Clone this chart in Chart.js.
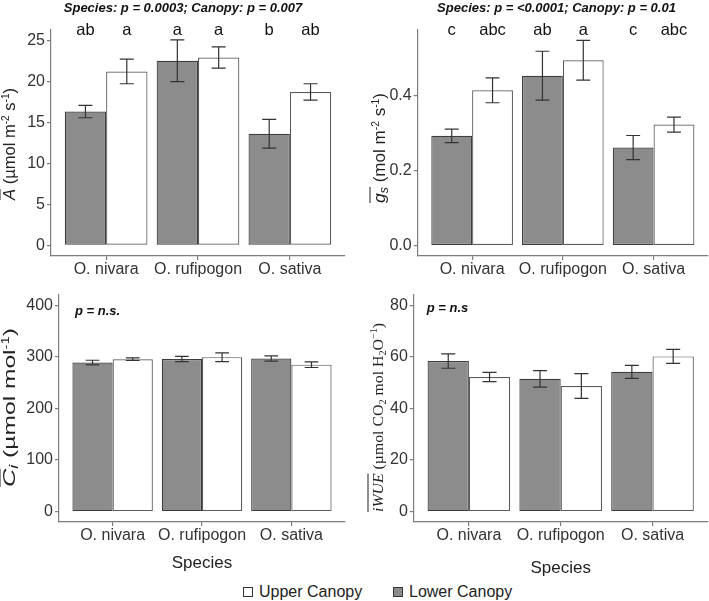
<!DOCTYPE html>
<html>
<head>
<meta charset="utf-8">
<script src="https://cdn.jsdelivr.net/npm/chart.js@4.4.1/dist/chart.umd.min.js"></script>
<style>
    body { margin: 0; background: #fff; width: 709px; height: 601px; position: relative; overflow: hidden; font-family: 'Liberation Sans', Arial, sans-serif; }
    .panel { position: absolute; }
    #legend { position: absolute; top: 583px; left: 243px; height: 18px; font-size: 16px; color: #222; }
    .item { position: absolute; top: 0; white-space: nowrap; line-height: 18px; }
    .box { position: absolute; top: 4px; width: 8px; height: 8px; border: 1.5px solid #333; }
</style>
</head>
<body>
<canvas class="panel" id="chartA" width="350" height="280" style="left:0;top:0"></canvas>
<canvas class="panel" id="chartG" width="359" height="280" style="left:350px;top:0"></canvas>
<canvas class="panel" id="chartC" width="350" height="295" style="left:0;top:280px"></canvas>
<canvas class="panel" id="chartW" width="359" height="300" style="left:350px;top:280px"></canvas>
<div id="legend"></div>

<script>
const species = ['O. nivara', 'O. rufipogon', 'O. sativa'];
const canopyNames = ['Lower Canopy', 'Upper Canopy'];

// net assimilation
const aLower = [16.3, 22.5, 13.6];
const aLowerErr = [0.75, 2.55, 1.75];
const aUpper = [21.2, 22.9, 18.7];
const aUpperErr = [1.5, 1.3, 1.0];
const aLowerLetters = ['ab', 'a', 'b'];
const aUpperLetters = ['a', 'a', 'ab'];
const aTicks = [0, 5, 10, 15, 20, 25];
const aTickLabels = ['0', '5', '10', '15', '20', '25'];

// stomatal conductance
const gLower = [0.292, 0.452, 0.261];
const gLowerErr = [0.018, 0.065, 0.032];
const gUpper = [0.413, 0.493, 0.322];
const gUpperErr = [0.033, 0.053, 0.02];
const gLowerLetters = ['c', 'ab', 'c'];
const gUpperLetters = ['abc', 'a', 'abc'];
const gTicks = [0, 0.2, 0.4];
const gTickLabels = ['0.0', '0.2', '0.4'];

// intercellular CO2
const cLower = [289, 296, 297];
const cLowerErr = [4.5, 5, 5];
const cUpper = [295.5, 299.5, 285];
const cUpperErr = [2.5, 8.5, 5.5];
const cTicks = [0, 100, 200, 300, 400];
const cTickLabels = ['0', '100', '200', '300', '400'];

// intrinsic water use efficiency
const wLower = [58.4, 51.5, 54.2];
const wLowerErr = [2.8, 3.2, 2.5];
const wUpper = [52.2, 48.7, 60.2];
const wUpperErr = [1.8, 4.8, 2.7];
const wTicks = [0, 20, 40, 60, 80];
const wTickLabels = ['0', '20', '40', '60', '80'];

const lowerFill = '#8c8c8c';
const lowerEdge = '#3d3d3d';
const upperFill = '#ffffff';
const upperEdge = '#5a5a5a';
const axisColor = '#7d7d7d';
const sans = "'Liberation Sans', Arial, sans-serif";
const serif = "'Liberation Serif', 'Times New Roman', serif";

// rotated y title made of text pieces (italics, sub/superscripts, overline)
function drawRich(ctx, segs, bx, cy, targetLen) {
    ctx.save();
    let w = 0;
    const parts = segs.map(s => {
        ctx.font = s.font;
        const sw = ctx.measureText(s.t).width;
        const p = Object.assign({}, s, {x: w, w: sw});
        w += sw;
        return p;
    });
    const k = targetLen ? targetLen / w : 1;
    ctx.translate(bx, cy);
    ctx.rotate(-Math.PI / 2);
    ctx.scale(k, 1);
    ctx.translate(-w / 2, 0);
    ctx.fillStyle = '#222';
    ctx.textAlign = 'left';
    ctx.textBaseline = 'alphabetic';
    parts.forEach(p => {
        ctx.font = p.font;
        ctx.fillText(p.t, p.x, p.dy || 0);
    });
    const over = parts.filter(p => p.over);
    if (over.length) {
        ctx.strokeStyle = '#222';
        ctx.lineWidth = 1;
        ctx.beginPath();
        ctx.moveTo(over[0].x, -15);
        ctx.lineTo(over[over.length - 1].x + over[over.length - 1].w, -15);
        ctx.stroke();
    }
    ctx.restore();
}

const errorBars = {
    id: 'errorBars',
    afterDatasetsDraw(chart) {
        const {ctx} = chart;
        const y = chart.scales.y;
        chart.data.datasets.forEach((ds, di) => {
            chart.getDatasetMeta(di).data.forEach((bar, i) => {
                const v = ds.data[i].y;
                const e = ds.err[i];
                const top = y.getPixelForValue(v + e);
                const bot = y.getPixelForValue(v - e);
                const half = bar.width * 0.17;
                ctx.save();
                ctx.strokeStyle = '#333';
                ctx.lineWidth = 1.2;
                ctx.beginPath();
                ctx.moveTo(bar.x, top); ctx.lineTo(bar.x, bot);
                ctx.moveTo(bar.x - half, top); ctx.lineTo(bar.x + half, top);
                ctx.moveTo(bar.x - half, bot); ctx.lineTo(bar.x + half, bot);
                ctx.stroke();
                ctx.restore();
            });
        });
    }
};

const panelText = {
    id: 'panelText',
    afterDraw(chart, args, opts) {
        const {ctx, chartArea} = chart;
        ctx.save();
        if (opts.title) {
            ctx.font = 'bold italic 13px ' + sans;
            ctx.fillStyle = '#111';
            ctx.textAlign = 'center';
            ctx.textBaseline = 'middle';
            ctx.fillText(opts.title, opts.titleX, 8);
        }
        if (opts.note) {
            ctx.font = 'bold italic 13px ' + sans;
            ctx.fillStyle = '#111';
            ctx.textAlign = 'left';
            ctx.textBaseline = 'middle';
            ctx.fillText(opts.note, chartArea.left + opts.noteDx, opts.noteY);
        }
        chart.data.datasets.forEach((ds, di) => {
            if (!ds.letters) return;
            chart.getDatasetMeta(di).data.forEach((bar, i) => {
                ctx.font = '16.5px ' + sans;
                ctx.fillStyle = '#111';
                ctx.textAlign = 'center';
                ctx.textBaseline = 'alphabetic';
                ctx.fillText(ds.letters[i], bar.x, chartArea.top + 5);
            });
        });
        ctx.restore();
        drawRich(ctx, opts.ySegs, opts.yTitleX, opts.yTitleY, opts.yTitleLen);
    }
};

function makePanel(id, cfg) {
    const toPoints = arr => arr.map((v, i) => ({x: i + 1, y: v}));
    return new Chart(document.getElementById(id), {
        type: 'bar',
        data: {
            datasets: [
                {label: canopyNames[0], data: toPoints(cfg.lower), err: cfg.lowerErr, letters: cfg.lowerLetters,
                    backgroundColor: lowerFill, borderColor: lowerEdge, borderWidth: 1.2, borderSkipped: false},
                {label: canopyNames[1], data: toPoints(cfg.upper), err: cfg.upperErr, letters: cfg.upperLetters,
                    backgroundColor: upperFill, borderColor: upperEdge, borderWidth: 1.2, borderSkipped: false}
            ]
        },
        options: {
            responsive: false,
            animation: false,
            categoryPercentage: 0.9,
            barPercentage: 1.0,
            layout: {padding: {top: cfg.padTop, right: cfg.padRight, bottom: 0, left: 0}},
            plugins: {
                legend: {display: false},
                tooltip: {enabled: false},
                panelText: cfg.text
            },
            scales: {
                x: {
                    type: 'linear', min: 0.4, max: 3.6, offset: false,
                    afterBuildTicks: s => { s.ticks = species.map((_, i) => ({value: i + 1})); },
                    afterFit: s => { s.height = cfg.xH; s.paddingLeft = 0; s.paddingRight = 0; },
                    ticks: {callback: (v, i) => species[i], font: {size: 16, family: sans}, color: '#333', padding: 0, autoSkip: false, maxRotation: 0},
                    grid: {drawOnChartArea: false, tickLength: 4, color: axisColor, lineWidth: 1.2, offset: false},
                    border: {color: axisColor, width: 1.2},
                    title: cfg.xTitle
                        ? {display: true, text: 'Species', font: {size: 17, family: sans}, color: '#222', padding: {top: 0, bottom: 1.5}}
                        : {display: false}
                },
                y: {
                    min: cfg.yMin, max: cfg.yMax,
                    afterBuildTicks: s => { s.ticks = cfg.yTicks.map(v => ({value: v})); },
                    afterFit: s => { s.width = cfg.yW; s.paddingTop = 0; s.paddingBottom = 0; },
                    ticks: {callback: (v, i) => cfg.yTickLabels[i], font: {size: 16, family: sans}, color: '#333', padding: 2},
                    grid: {drawOnChartArea: false, tickLength: 4, color: axisColor, lineWidth: 1.2},
                    border: {color: axisColor, width: 1.2}
                }
            }
        },
        plugins: [errorBars, panelText]
    });
}

const big = '16.5px ' + sans;
const sup = '10px ' + sans;

makePanel('chartA', {
    lower: aLower, lowerErr: aLowerErr, upper: aUpper, upperErr: aUpperErr,
    lowerLetters: aLowerLetters, upperLetters: aUpperLetters,
    yMin: -1.3, yMax: 26.25, yTicks: aTicks, yTickLabels: aTickLabels,
    yW: 51, xH: 24, padTop: 30, padRight: 5, xTitle: false,
    text: {
        title: 'Species: p = 0.0003; Canopy: p = 0.007', titleX: 183,
        ySegs: [
            {t: 'A', font: 'italic ' + big, over: true},
            {t: ' (µmol m', font: big}, {t: '-2', font: sup, dy: -6},
            {t: ' s', font: big}, {t: '-1', font: sup, dy: -6}, {t: ')', font: big}
        ],
        yTitleX: 15, yTitleY: 144, yTitleLen: 112
    }
});

makePanel('chartG', {
    lower: gLower, lowerErr: gLowerErr, upper: gUpper, upperErr: gUpperErr,
    lowerLetters: gLowerLetters, upperLetters: gUpperLetters,
    yMin: -0.0275, yMax: 0.5735, yTicks: gTicks, yTickLabels: gTickLabels,
    yW: 67.7, xH: 24, padTop: 30, padRight: 1, xTitle: false,
    text: {
        title: 'Species: p = <0.0001; Canopy: p = 0.01', titleX: 206.5,
        ySegs: [
            {t: 'g', font: 'italic 17px ' + sans, over: true},
            {t: 's', font: 'italic 12px ' + sans, dy: 3, over: true},
            {t: ' (mol m', font: big}, {t: '-2', font: sup, dy: -6},
            {t: ' s', font: big}, {t: '-1', font: sup, dy: -6}, {t: ')', font: big}
        ],
        yTitleX: 35, yTitleY: 148, yTitleLen: 110
    }
});

makePanel('chartC', {
    lower: cLower, lowerErr: cLowerErr, upper: cUpper, upperErr: cUpperErr,
    yMin: -20, yMax: 420, yTicks: cTicks, yTickLabels: cTickLabels,
    yW: 59, xH: 53, padTop: 15, padRight: 5, xTitle: true,
    text: {
        note: 'p = n.s.', noteDx: 16, noteY: 31.5,
        ySegs: [
            {t: 'C', font: 'italic 17px ' + sans, over: true},
            {t: 'i', font: 'italic 12px ' + sans, dy: 3},
            {t: ' (µmol mol', font: big}, {t: '-1', font: sup, dy: -6}, {t: ')', font: big}
        ],
        yTitleX: 15, yTitleY: 127.5, yTitleLen: 159
    }
});

makePanel('chartW', {
    lower: wLower, lowerErr: wLowerErr, upper: wUpper, upperErr: wUpperErr,
    yMin: -4, yMax: 84, yTicks: wTicks, yTickLabels: wTickLabels,
    yW: 63.8, xH: 58, padTop: 15, padRight: 1.4, xTitle: true,
    text: {
        note: 'p = n.s', noteDx: 13, noteY: 28,
        ySegs: [
            {t: 'iWUE', font: 'italic 15.5px ' + serif, over: true},
            {t: ' (µmol CO', font: '15.5px ' + serif}, {t: '2', font: '10px ' + serif, dy: 3},
            {t: ' mol H', font: '15.5px ' + serif}, {t: '2', font: '10px ' + serif, dy: 3},
            {t: 'O', font: '15.5px ' + serif}, {t: '\u22121', font: '10px ' + serif, dy: -6},
            {t: ')', font: '15.5px ' + serif}
        ],
        yTitleX: 33, yTitleY: 137.5, yTitleLen: 189
    }
});

// shared legend: upper first, then lower, as in the figure
const legendEl = document.getElementById('legend');
[[canopyNames[1], upperFill, 0], [canopyNames[0], lowerFill, 150]].forEach(([name, fill, dx]) => {
    const item = document.createElement('div');
    item.className = 'item';
    item.style.left = dx + 'px';
    item.innerHTML = `<span class="box" style="background:${fill}"></span><span style="margin-left:16px">${name}</span>`;
    legendEl.appendChild(item);
});
</script>
</body>
</html>
